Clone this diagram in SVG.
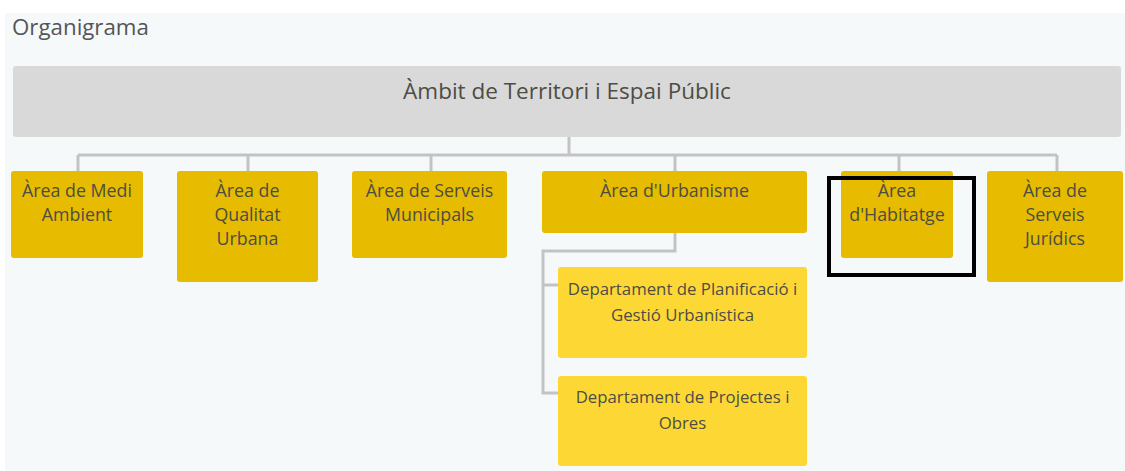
<svg xmlns="http://www.w3.org/2000/svg" width="1125" height="471" viewBox="0 0 1125 471">
<style>
.t{font-family:"Open Sans","Liberation Sans",sans-serif;fill:#4d4d45;text-anchor:middle}
.a{fill:#e6bb00}
.d{fill:#fdd835}
.c{fill:none;stroke:#c3c3c3;stroke-width:3}
.at{font-size:17.8px}
.dt{font-size:16.8px}
</style>
<rect x="0" y="0" width="1125" height="471" fill="#ffffff"/>
<rect x="5" y="13" width="1120" height="458" fill="#f6f9fa"/>
<text x="12" y="35" font-family="'Open Sans','Liberation Sans',sans-serif" font-size="22.3" fill="#555555">Organigrama</text>
<g id="connectors">
<path class="c" d="M569 137V155M78 155H1057M78 155V171M248 155V171M431 155V171M675 155V171M899 155V171M1057 155V171"/>
<path class="c" d="M675 233V251H543V393H558M543 285H558"/>
</g>
<g id="root">
<rect x="13" y="66" width="1108" height="71" rx="3" fill="#d9d9d9"/>
<text class="t" x="567" y="99" font-size="22.5">Àmbit de Territori i Espai Públic</text>
</g>
<g id="medi">
<rect class="a" x="11" y="171" width="132" height="87" rx="3"/>
<text class="t at" x="77" y="197">Àrea de Medi</text>
<text class="t at" x="77" y="221">Ambient</text>
</g>
<g id="qualitat">
<rect class="a" x="177" y="171" width="141" height="111" rx="3"/>
<text class="t at" x="247.5" y="197">Àrea de</text>
<text class="t at" x="247.5" y="221">Qualitat</text>
<text class="t at" x="247.5" y="245">Urbana</text>
</g>
<g id="serveis">
<rect class="a" x="352" y="171" width="155" height="87" rx="3"/>
<text class="t at" x="429.5" y="197">Àrea de Serveis</text>
<text class="t at" x="429.5" y="221">Municipals</text>
</g>
<g id="urbanisme">
<rect class="a" x="542" y="171" width="265" height="62" rx="3"/>
<text class="t at" x="674.5" y="197">Àrea d'Urbanisme</text>
</g>
<g id="habitatge">
<rect class="a" x="841" y="171" width="112" height="87" rx="3"/>
<text class="t at" x="897" y="197">Àrea</text>
<text class="t at" x="897" y="221">d'Habitatge</text>
</g>
<g id="juridics">
<rect class="a" x="987" y="171" width="136" height="111" rx="3"/>
<text class="t at" x="1055" y="197">Àrea de</text>
<text class="t at" x="1055" y="221">Serveis</text>
<text class="t at" x="1055" y="245">Jurídics</text>
</g>
<g id="planificacio">
<rect class="d" x="558" y="267" width="249" height="91" rx="3"/>
<text class="t dt" x="682.5" y="295">Departament de Planificació i</text>
<text class="t dt" x="682.5" y="321">Gestió Urbanística</text>
</g>
<g id="projectes">
<rect class="d" x="558" y="376" width="249" height="90" rx="3"/>
<text class="t dt" x="682.5" y="403">Departament de Projectes i</text>
<text class="t dt" x="682.5" y="429">Obres</text>
</g>
<g id="highlight">
<rect x="829" y="178" width="145" height="97" fill="none" stroke="#000000" stroke-width="4"/>
</g>
</svg>
